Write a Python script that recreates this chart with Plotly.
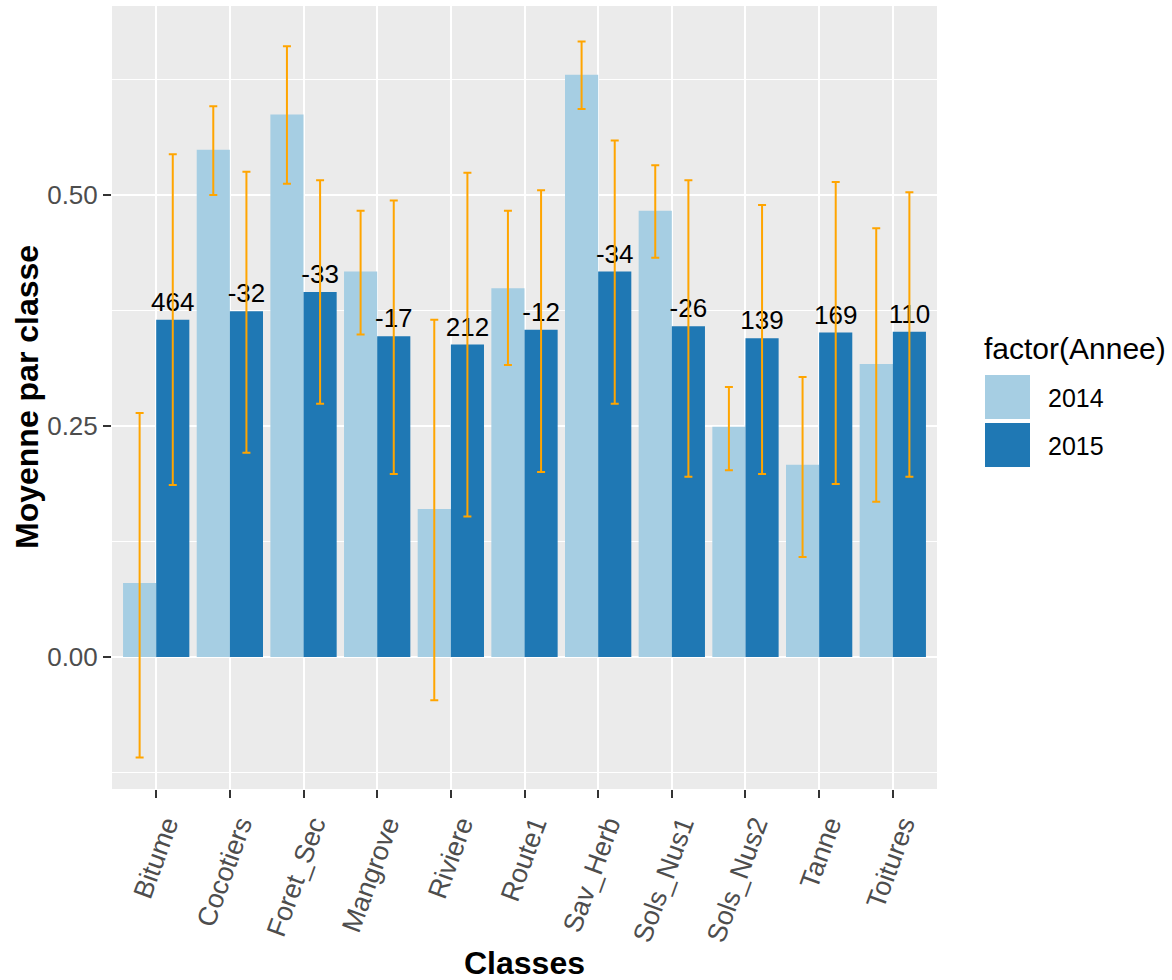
import plotly.graph_objects as go

categories = ["Bitume", "Cocotiers", "Foret_Sec", "Mangrove", "Riviere", "Route1",
              "Sav_Herb", "Sols_Nus1", "Sols_Nus2", "Tanne", "Toitures"]

mean_2014 = [0.080, 0.549, 0.587, 0.417, 0.160, 0.399, 0.630, 0.483, 0.249, 0.208, 0.317]
low_2014 = [-0.109, 0.500, 0.512, 0.349, -0.047, 0.316, 0.593, 0.432, 0.202, 0.108, 0.168]
high_2014 = [0.264, 0.596, 0.661, 0.483, 0.365, 0.483, 0.666, 0.532, 0.292, 0.303, 0.464]

mean_2015 = [0.365, 0.374, 0.395, 0.347, 0.338, 0.354, 0.417, 0.358, 0.345, 0.351, 0.352]
low_2015 = [0.186, 0.221, 0.274, 0.198, 0.152, 0.200, 0.274, 0.195, 0.198, 0.187, 0.195]
high_2015 = [0.544, 0.525, 0.516, 0.494, 0.524, 0.505, 0.559, 0.516, 0.489, 0.514, 0.503]

change_labels = ["464", "-32", "-33", "-17", "212", "-12", "-34", "-26", "139", "169", "110"]

years = ["2014", "2015"]
colors = ["#A6CEE3", "#1F78B4"]
y_tickvals = [0.0, 0.25, 0.5]
y_ticktext = ["0.00", "0.25", "0.50"]

W, H = 1172, 980
L, R, T, B = 112, 937, 6, 789
FONT = "Liberation Sans, Arial, sans-serif"


def px_x(p):
    return (p - L) / (R - L)


def px_y(p):
    return (B - p) / (B - T)


def err(mean, low, high):
    return dict(type="data", symmetric=False,
                array=[h - m for m, h in zip(mean, high)],
                arrayminus=[m - l for m, l in zip(mean, low)],
                color="#FFA500", thickness=2, width=4)


fig = go.Figure()
fig.add_trace(go.Bar(x=categories, y=mean_2014, name=years[0], marker_color=colors[0],
                     marker_line_width=0, error_y=err(mean_2014, low_2014, high_2014),
                     showlegend=False))
fig.add_trace(go.Bar(x=categories, y=mean_2015, name=years[1], marker_color=colors[1],
                     marker_line_width=0, error_y=err(mean_2015, low_2015, high_2015),
                     text=change_labels, textposition="outside", textangle=0,
                     constraintext="none", cliponaxis=False,
                     textfont=dict(family=FONT, size=26, color="black"),
                     showlegend=False))

fig.update_layout(
    width=W, height=H, autosize=False,
    margin=dict(l=L, r=W - R, t=T, b=H - B, pad=0),
    paper_bgcolor="white", plot_bgcolor="#EBEBEB",
    barmode="group", bargap=0.1, bargroupgap=0,
    font=dict(family=FONT),
    xaxis=dict(range=[-0.6, 10.6], showgrid=True, gridcolor="white", gridwidth=2,
               ticks="outside", ticklen=8, tickwidth=2, tickcolor="#333333",
               tickangle=-70, ticklabelshift=10,
               tickfont=dict(family=FONT, size=27, color="#4D4D4D"),
               zeroline=False, showline=False, automargin=False),
    yaxis=dict(range=[-0.143, 0.7045], tickvals=y_tickvals, ticktext=y_ticktext,
               showgrid=True, gridcolor="white", gridwidth=2,
               minor=dict(tick0=0.125, dtick=0.25, showgrid=True, gridcolor="white",
                          gridwidth=1, ticks=""),
               ticks="outside", ticklen=8, tickwidth=2, tickcolor="#333333",
               tickfont=dict(family=FONT, size=26, color="#4D4D4D"),
               zeroline=False, showline=False, automargin=False),
)

annotations = [
    dict(text="<b>Classes</b>", x=px_x(524), y=px_y(963), xref="paper", yref="paper",
         showarrow=False, font=dict(family=FONT, size=32, color="black"),
         xanchor="center", yanchor="middle"),
    dict(text="<b>Moyenne par classe</b>", x=px_x(27), y=px_y(397), xref="paper",
         yref="paper", showarrow=False, textangle=-90,
         font=dict(family=FONT, size=32, color="black"),
         xanchor="center", yanchor="middle"),
    dict(text="factor(Annee)", x=px_x(982), y=px_y(349), xref="paper", yref="paper",
         showarrow=False, font=dict(family=FONT, size=30, color="black"),
         xanchor="left", yanchor="middle"),
]
shapes = []
key_tops = [375, 423]
for i, yr in enumerate(years):
    top = key_tops[i]
    shapes.append(dict(type="rect", xref="paper", yref="paper",
                       x0=px_x(985), x1=px_x(1030), y0=px_y(top + 44), y1=px_y(top),
                       fillcolor=colors[i], line=dict(width=0)))
    annotations.append(dict(text=yr, x=px_x(1046), y=px_y(top + 23), xref="paper",
                            yref="paper", showarrow=False,
                            font=dict(family=FONT, size=25, color="black"),
                            xanchor="left", yanchor="middle"))

fig.update_layout(annotations=annotations, shapes=shapes)
fig.write_html("out.html", config={"displayModeBar": False},
               post_script="document.body.style.margin='0';document.body.style.overflow='hidden';")
